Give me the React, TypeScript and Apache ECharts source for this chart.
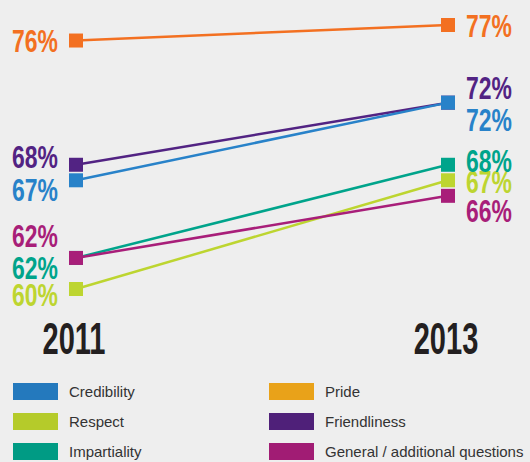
import React, { useEffect, useRef } from "react";
import * as echarts from "echarts";

const years = ["2011", "2013"];
const seriesNames = ["Pride", "Friendliness", "Credibility", "Respect", "Impartiality", "General / additional questions"];
const pride = [76, 77];
const friendliness = [68, 72];
const credibility = [67, 72];
const respect = [60, 67];
const impartiality = [62, 68];
const general = [62, 66];
const legendLeft = ["Credibility", "Respect", "Impartiality"];
const legendRight = ["Pride", "Friendliness", "General / additional questions"];

const colors: Record<string, string> = {
  Pride: "#F37021",
  Friendliness: "#522383",
  Credibility: "#2882C9",
  Respect: "#BDD530",
  Impartiality: "#00A48B",
  "General / additional questions": "#A81E79",
};
const legendColors: Record<string, string> = {
  Pride: "#E9A219",
  Friendliness: "#4F2079",
  Credibility: "#2479BD",
  Respect: "#B5CB2A",
  Impartiality: "#009B84",
  "General / additional questions": "#A11C74",
};
// label vertical nudges [2011, 2013] to keep labels apart
const labelOffsets: Record<string, number[]> = {
  Pride: [1, 1],
  Friendliness: [-8, -14],
  Credibility: [10, 18],
  Respect: [6, 2],
  Impartiality: [10, -4],
  "General / additional questions": [-22, 15],
};
const values: Record<string, number[]> = {
  Pride: pride,
  Friendliness: friendliness,
  Credibility: credibility,
  Respect: respect,
  Impartiality: impartiality,
  "General / additional questions": general,
};

const FONT = "'Liberation Sans', Arial, sans-serif";

export default function App() {
  const ref = useRef<HTMLDivElement>(null);
  useEffect(() => {
    if (!ref.current) return;
    const chart = echarts.init(ref.current, null, { renderer: "svg" });

    const lineSeries = seriesNames.map((name) => ({
      name,
      type: "line",
      symbol: "rect",
      symbolSize: 14,
      color: colors[name],
      lineStyle: { width: 2.5, color: colors[name] },
      itemStyle: { color: colors[name] },
      z: 2,
      data: values[name],
    }));

    // value labels, one per end point
    const labelItems: { name: string; i: number; v: number }[] = [];
    seriesNames.forEach((name) => {
      values[name].forEach((v, i) => labelItems.push({ name, i, v }));
    });

    const labelSeries = {
      name: "labels",
      type: "custom",
      z: 5,
      silent: true,
      data: labelItems.map((d) => [d.i, d.v]),
      renderItem: (params: any, api: any) => {
        const d = labelItems[params.dataIndex];
        const p = api.coord([api.value(0), api.value(1)]);
        const left = d.i === 0;
        return {
          type: "text",
          x: p[0] + (left ? -18 : 18),
          y: p[1] + labelOffsets[d.name][d.i],
          scaleX: 0.74,
          style: {
            text: d.v + "%",
            fill: colors[d.name],
            font: "bold 31px " + FONT,
            align: left ? "right" : "left",
            verticalAlign: "middle",
          },
        };
      },
    };

    const yearSeries = {
      name: "years",
      type: "custom",
      z: 5,
      silent: true,
      data: years.map((y, i) => [i, 60]),
      renderItem: (params: any, api: any) => {
        const p = api.coord([api.value(0), api.value(1)]);
        return {
          type: "text",
          x: p[0] - 2,
          y: p[1] + 50,
          scaleX: 0.66,
          style: {
            text: years[params.dataIndex],
            fill: "#231F20",
            font: "bold 44px " + FONT,
            align: "center",
            verticalAlign: "middle",
          },
        };
      },
    };

    const legendCommon = {
      orient: "vertical",
      icon: "rect",
      itemWidth: 45,
      itemHeight: 17,
      itemGap: 13,
      padding: 0,
      top: 383,
      textStyle: { fontFamily: FONT, fontSize: 15, color: "#333", padding: [0, 0, 0, 6] },
    };
    chart.setOption({
      animation: false,
      backgroundColor: "#EEEEEE",
      grid: { left: 76, right: 82, top: 25, bottom: 173 },
      xAxis: {
        type: "category",
        data: years,
        boundaryGap: false,
        axisLine: { show: false },
        axisTick: { show: false },
        splitLine: { show: false },
        axisLabel: { show: false },
      },
      yAxis: {
        type: "value",
        min: 60,
        max: 77,
        show: false,
        splitLine: { show: false },
      },
      legend: [
        {
          ...legendCommon,
          left: 13,
          data: legendLeft.map((n) => ({ name: n, itemStyle: { color: legendColors[n] } })),
        },
        {
          ...legendCommon,
          left: 269,
          data: legendRight.map((n) => ({ name: n, itemStyle: { color: legendColors[n] } })),
        },
      ],
      series: [...lineSeries, labelSeries, yearSeries],
    });
    return () => chart.dispose();
  }, []);
  return (
    <div
      ref={ref}
      style={{ position: "fixed", left: 0, top: 0, width: 530, height: 462 }}
    />
  );
}
